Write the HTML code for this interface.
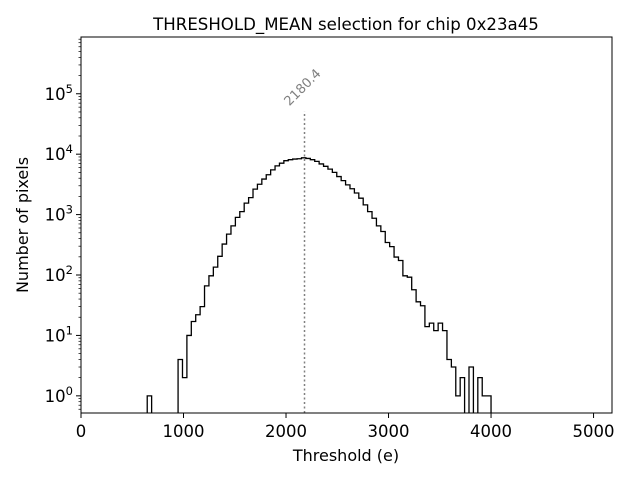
<!DOCTYPE html>
<html><head><meta charset="utf-8"><style>
body{margin:0;background:#fff}
svg{display:block;font-family:"DejaVu Sans","Liberation Sans",sans-serif}
</style></head><body>
<svg id="chart" width="640" height="480" viewBox="0 0 640 480" xmlns="http://www.w3.org/2000/svg">
<defs><clipPath id="pc"><rect x="81" y="37" width="531" height="376"/></clipPath></defs>
<rect width="640" height="480" fill="#fff"/>
<text x="346" y="30" font-size="16.6" text-anchor="middle">THRESHOLD_MEAN selection for chip 0x23a45</text>
<g id="plot"></g>
<text x="346" y="461" font-size="16" text-anchor="middle">Threshold (e)</text>
<text transform="translate(28,225) rotate(-90)" font-size="16" text-anchor="middle">Number of pixels</text>
</svg>
<script>
const binStart = 646;
const binWidth = 43;
const counts = [1,0,0,0,0,0,0,4,2,10,17,22,30,66,97,135,204,325,475,650,900,1120,1550,1910,2640,3180,3870,4570,5500,6400,7100,7800,8100,8300,8400,8700,8500,8100,7600,6900,6300,5650,5000,4260,3650,3100,2680,2280,1870,1450,1120,870,650,525,345,295,198,174,97,92,57,36,31,14,16,12,16,12,4,3,1,2,0,3,0,2,1,1];
const xTicks = [0,1000,2000,3000,4000,5000];
const yTickExps = [0,1,2,3,4,5];
const meanValue = 2180.4;
const xMin = 0, xMax = 5180, yMin = 0.52, yMax = 870000;
const L = 81, R = 612, T = 37, B = 413;
const NS = "http://www.w3.org/2000/svg";
const g = document.getElementById('plot');
function X(v){return L + (v - xMin) / (xMax - xMin) * (R - L);}
function Y(v){return B - (Math.log10(v) - Math.log10(yMin)) / (Math.log10(yMax) - Math.log10(yMin)) * (B - T);}
function mk(tag, attrs, parent){const e=document.createElementNS(NS,tag);for(const k in attrs)e.setAttribute(k,attrs[k]);(parent||g).appendChild(e);return e;}
const clipG = mk('g',{'clip-path':'url(#pc)'});


let d = "";
for (let i = 0; i < counts.length; i++) {
  const x0 = X(binStart + i*binWidth), x1 = X(binStart + (i+1)*binWidth);
  const c = counts[i];
  const yy = c > 0 ? Y(c) : B + 5;
  if (i === 0) d += `M${x0},${B+5}`;
  d += `L${x0},${yy}L${x1},${yy}`;
}
d += `L${X(binStart + counts.length*binWidth)},${B+5}`;
const hist = mk('path',{d:d,fill:'none',stroke:'#000','stroke-width':1.3},clipG);


const topY = Y(yMax/17);
const ml = mk('line',{x1:X(meanValue),x2:X(meanValue),y1:B,y2:topY,stroke:'#808080','stroke-width':1.5,'stroke-dasharray':'2,2.5'});


const lx = X(meanValue)+1, ly = topY-21;
const mt = mk('text',{x:lx,y:ly,'font-size':13,fill:'#808080','text-anchor':'middle',transform:`rotate(-45 ${lx} ${ly})`});
mt.textContent = String(meanValue);


const fr = mk('rect',{x:L,y:T,width:R-L,height:B-T,fill:'none',stroke:'#000','stroke-width':1});


xTicks.forEach(t=>{
  const x = X(t);
  const tl = mk('line',{x1:x,x2:x,y1:B,y2:B+5,stroke:'#000'});
  
  
  const tx = mk('text',{x:x,y:B+24,'font-size':16.5,'text-anchor':'middle'});
  tx.textContent = t;
  
  
});
yTickExps.forEach(e=>{
  const y = Y(Math.pow(10,e));
  const tl = mk('line',{x1:L-5,x2:L,y1:y,y2:y,stroke:'#000'});
  
  
  const tx = mk('text',{x:L-8,y:y+6,'font-size':16.5,'text-anchor':'end'});
  tx.textContent = '10';
  const sp = document.createElementNS(NS,'tspan');
  sp.setAttribute('dy','-7');sp.setAttribute('font-size','11.5');sp.textContent = e;
  tx.appendChild(sp);
  
  
});
for (let e = -1; e <= 5; e++) for (let m = 2; m <= 9; m++) {
  const v = m*Math.pow(10,e);
  if (v < yMin || v > yMax) continue;
  const y = Y(v);
  const tl = mk('line',{x1:L-2.5,x2:L,y1:y,y2:y,stroke:'#000','stroke-width':0.7});
  
  
}
</script>
</body></html>
